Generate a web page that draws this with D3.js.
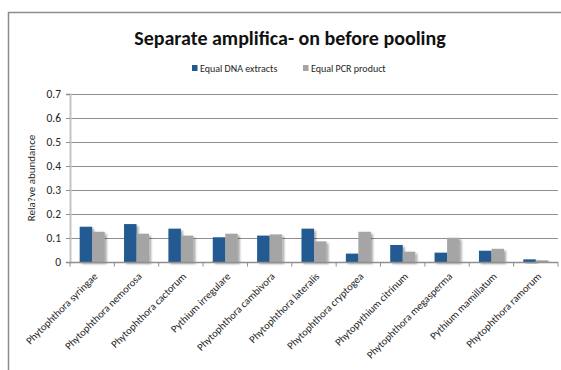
<!DOCTYPE html>
<html>
<head>
<meta charset="utf-8">
<script src="https://cdn.jsdelivr.net/npm/d3@7"></script>
<style>
  html, body { margin: 0; padding: 0; background: #fff; }
  svg { display: block; }
  .lbl { font-family: Carlito, "Liberation Sans Narrow", "DejaVu Sans Condensed", "Liberation Sans", Arial, sans-serif; fill: #262626; }
</style>
</head>
<body>
<svg id="chart" width="561" height="370"></svg>
<script>
// Species (x categories)
const categories = [
  "Phytophthora syringae",
  "Phytophthora nemorosa",
  "Phytophthora cactorum",
  "Pythium irregulare",
  "Phytophthora cambivora",
  "Phytophthora lateralis",
  "Phytophthora cryptogea",
  "Phytopythium citrinum",
  "Phytophthora megasperma",
  "Pythium mamillatum",
  "Phytophthora ramorum"
];
const seriesNames = ["Equal DNA extracts", "Equal PCR product"];
// Relative abundance per species, one array per pooling strategy
const equalDNA = [0.147, 0.158, 0.139, 0.103, 0.110, 0.139, 0.035, 0.071, 0.039, 0.047, 0.011];
const equalPCR = [0.126, 0.118, 0.110, 0.118, 0.115, 0.086, 0.126, 0.043, 0.101, 0.055, 0.007];
const yTicks = [0, 0.1, 0.2, 0.3, 0.4, 0.5, 0.6, 0.7];
const colors = ["#215a91", "#a5a5a5"];

const svg = d3.select("#chart");
const W = 561, H = 370;
const m = { left: 70, right: 3, top: 94, bottom: 108 };
const plotW = W - m.left - m.right;
const plotH = H - m.top - m.bottom;

// Drop shadow for the bars
const defs = svg.append("defs");
const f = defs.append("filter").attr("id", "shadow")
  .attr("x", "-20%").attr("y", "-20%").attr("width", "160%").attr("height", "160%");
f.append("feGaussianBlur").attr("in", "SourceAlpha").attr("stdDeviation", 1.2).attr("result", "b");
f.append("feOffset").attr("in", "b").attr("dx", 1.5).attr("dy", 1.5).attr("result", "o");
f.append("feComponentTransfer").attr("in", "o").attr("result", "s")
  .append("feFuncA").attr("type", "linear").attr("slope", 0.35);
const fm = f.append("feMerge");
fm.append("feMergeNode").attr("in", "s");
fm.append("feMergeNode").attr("in", "SourceGraphic");

// Chart frame
svg.append("path")
  .attr("d", `M8.5,${H + 2} V12.5 H${W + 2}`)
  .attr("fill", "none").attr("stroke", "#8c8c8c").attr("stroke-width", 1.5);

// Title
svg.append("text").attr("class", "lbl")
  .attr("x", 290).attr("y", 45)
  .attr("text-anchor", "middle")
  .style("font-size", "20px").style("font-weight", "bold").style("fill", "#111")
  .text("Separate amplifica- on before pooling");

// Legend
const legend = svg.append("g");
const legX = [192, 303];
seriesNames.forEach((name, i) => {
  legend.append("rect").attr("x", legX[i]).attr("y", 65).attr("width", 5.5).attr("height", 6)
    .attr("fill", colors[i]);
  legend.append("text").attr("class", "lbl")
    .attr("x", legX[i] + 8).attr("y", 71.5)
    .style("font-size", "10px")
    .text(name);
});

const g = svg.append("g").attr("transform", `translate(${m.left},${m.top})`);

const x = d3.scaleBand().domain(categories).range([0, plotW]).paddingInner(0.436).paddingOuter(0.218);
const xs = d3.scaleBand().domain(seriesNames).range([0, x.bandwidth()]);
const y = d3.scaleLinear().domain([0, 0.7]).range([plotH, 0]);

// Horizontal gridlines
g.append("g").selectAll("line").data(yTicks.filter(d => d > 0)).join("line")
  .attr("x1", 0).attr("x2", plotW)
  .attr("y1", d => Math.round(y(d)) + 0.5).attr("y2", d => Math.round(y(d)) + 0.5)
  .attr("stroke", "#8f8f8f").attr("stroke-width", 1);

// Y axis
const yAxis = g.append("g")
  .call(d3.axisLeft(y).tickValues(yTicks).tickFormat(d3.format("")).tickSize(4).tickPadding(5));
yAxis.select(".domain").attr("stroke", "#c4c4c4").attr("stroke-width", 2);
yAxis.selectAll(".tick line").attr("stroke", "#8f8f8f");
yAxis.selectAll(".tick text").attr("class", "lbl").style("font-size", "11.5px").attr("fill", "#262626");

// Y axis title
svg.append("text").attr("class", "lbl")
  .attr("transform", `translate(35,178) rotate(-90)`)
  .attr("text-anchor", "middle")
  .style("font-size", "11px")
  .text("Rela?ve abundance");

// Bars
const rows = categories.map((c, i) => ({ c, vals: [equalDNA[i], equalPCR[i]] }));
const groups = g.append("g").selectAll("g").data(rows).join("g")
  .attr("transform", d => `translate(${x(d.c)},0)`);
groups.selectAll("rect").data(d => d.vals.map((v, i) => ({ v, s: seriesNames[i], i }))).join("rect")
  .attr("x", d => xs(d.s))
  .attr("width", xs.bandwidth())
  .attr("y", d => y(d.v))
  .attr("height", d => y(0) - y(d.v))
  .attr("fill", d => colors[d.i])
  .attr("filter", "url(#shadow)");

// X axis: baseline with ticks between categories
const xa = g.append("g").attr("transform", `translate(0,${plotH})`);
xa.append("line").attr("x1", 0).attr("x2", plotW).attr("y1", 0.5).attr("y2", 0.5)
  .attr("stroke", "#8f8f8f").attr("stroke-width", 1.5);
const bounds = d3.range(categories.length + 1).map(k => k * x.step());
xa.selectAll("line.tk").data(bounds).join("line").attr("class", "tk")
  .attr("x1", d => d).attr("x2", d => d).attr("y1", 0).attr("y2", 4.5)
  .attr("stroke", "#8f8f8f");

// Rotated category labels
xa.selectAll("text.cat").data(categories).join("text")
  .attr("class", "lbl cat")
  .attr("text-anchor", "end")
  .attr("transform", d => `translate(${x(d) + x.bandwidth() / 2 + 6},${15}) rotate(-45)`)
  .style("font-size", "10.5px")
  .text(d => d);
</script>
</body>
</html>
